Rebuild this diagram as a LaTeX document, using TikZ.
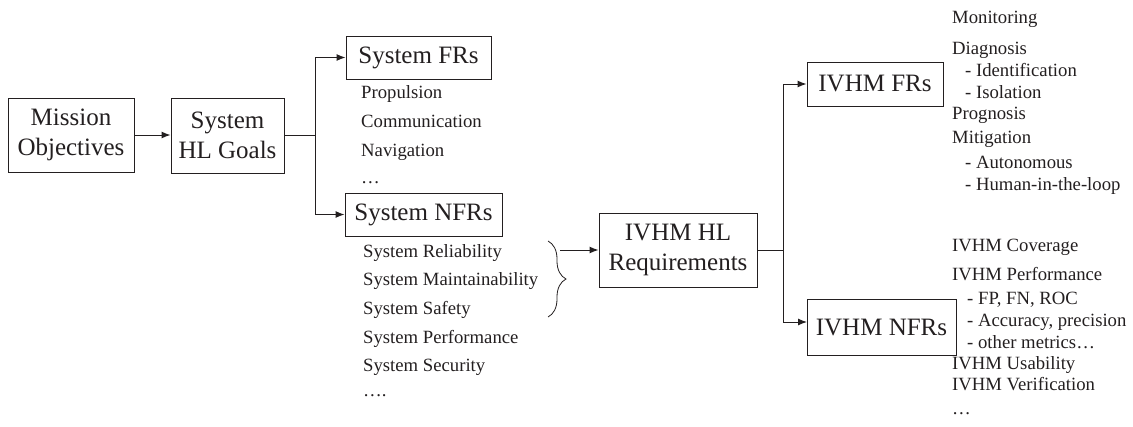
\documentclass[tikz,border=0pt]{standalone}
\usepackage{fontspec}
\setmainfont{Liberation Serif}
\usetikzlibrary{arrows.meta,decorations.pathreplacing}
\definecolor{ink}{RGB}{35,31,32}
\tikzset{
  box/.style={draw=ink, line width=1pt, inner sep=0pt, align=center, text=ink,
    font=\fontsize{25}{30}\selectfont},
  item/.style={anchor=base west, inner sep=0pt, text=ink, font=\fontsize{18.7}{22}\selectfont},
  conn/.style={draw=ink, line width=1pt},
  arr/.style={conn, -{Latex[length=9pt,width=7pt]}}
}
\begin{document}
\begin{tikzpicture}[x=1pt,y=-1pt]
\useasboundingbox (0,0) rectangle (1133,426);
% boxes
\node[box, minimum width=126pt, minimum height=74pt] (mo) at (71,135) {Mission\\Objectives};
\node[box, minimum width=113pt, minimum height=75pt] (hg) at (227.5,135.5) {System\\HL Goals};
\node[box, minimum width=145pt, minimum height=43pt] (sfr) at (418.5,57.5) {System FRs};
\node[box, minimum width=157pt, minimum height=43pt] (snfr) at (423.5,214.5) {System NFRs};
\node[box, minimum width=158pt, minimum height=74pt] (hl) at (678,250) {IVHM HL\\Requirements};
\node[box, minimum width=136pt, minimum height=44pt] (ifr) at (875,84) {IVHM FRs};
\node[box, minimum width=149pt, minimum height=56pt] (infr) at (881.5,327) {IVHM NFRs};
% system FR items
\node[item] (p1) at (361,98) {Propulsion};
\node[item] (p2) at (361,127.5) {Communication};
\node[item] (p3) at (361,156.5) {Navigation};
\node[item] (p4) at (361,183) {…};
% system NFR items
\node[item] (n1) at (363,257) {System Reliability};
\node[item] (n2) at (363,285.5) {System Maintainability};
\node[item] (n3) at (363,314.5) {System Safety};
\node[item] (n4) at (363,343) {System Performance};
\node[item] (n5) at (363,371) {System Security};
\node[item] (n6) at (363,396) {….};
% IVHM FR items
\node[item] (f1) at (952,23) {Monitoring};
\node[item] (f2) at (952,54.5) {Diagnosis};
\node[item] (f3) at (965,76) {- Identification};
\node[item] (f4) at (965,98) {- Isolation};
\node[item] (f5) at (952,119) {Prognosis};
\node[item] (f6) at (952,143.5) {Mitigation};
\node[item] (f7) at (965,168) {- Autonomous};
\node[item] (f8) at (965,190) {- Human-in-the-loop};
% IVHM NFR items
\node[item] (g1) at (952,251.5) {IVHM Coverage};
\node[item] (g2) at (952,280) {IVHM Performance};
\node[item] (g3) at (967,304) {- FP, FN, ROC};
\node[item] (g4) at (967,326.5) {- Accuracy, precision};
\node[item] (g5) at (967,348) {- other metrics…};
\node[item] (g6) at (952,369.5) {IVHM Usability};
\node[item] (g7) at (952,390) {IVHM Verification};
\node[item] (g8) at (952,414) {…};
% brace
\draw[conn, line width=0.8pt, decorate, decoration={brace, amplitude=18pt}] (548,241) -- (548,317);
\coordinate (bt) at (560,250);
% connectors
\draw[arr] (mo.east) -- (hg.west |- mo.east);
\coordinate (s1) at (315,135);
\draw[conn] (hg.east |- s1) -- (s1);
\draw[arr] (s1) |- (sfr.west);
\draw[arr] (s1) |- (snfr.west);
\draw[arr] (bt) -- (hl.west |- bt);
\coordinate (s2) at (783,250);
\draw[conn] (hl.east |- s2) -- (s2);
\draw[arr] (s2) |- (ifr.west);
\coordinate (ni) at (807,322);
\draw[arr] (s2) |- (ni);
\end{tikzpicture}
\end{document}
